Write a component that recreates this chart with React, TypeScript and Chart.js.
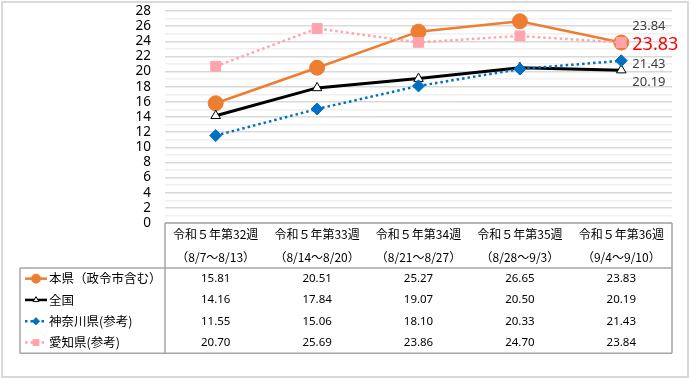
import React, { useEffect, useRef } from 'react';
import { Chart, registerables } from 'chart.js';
import { drawPoint } from 'chart.js/helpers';

Chart.register(...registerables);

const weekLabels = ['令和５年第32週', '令和５年第33週', '令和５年第34週', '令和５年第35週', '令和５年第36週'];
const dateLabels = ['（8/7～8/13）', '（8/14～8/20）', '（8/21～8/27）', '（8/28～9/3）', '（9/4～9/10）'];
const seriesNames = ['本県（政令市含む）', '全国', '神奈川県(参考)', '愛知県(参考)'];
const honken = [15.81, 20.51, 25.27, 26.65, 23.83];
const zenkoku = [14.16, 17.84, 19.07, 20.5, 20.19];
const kanagawa = [11.55, 15.06, 18.1, 20.33, 21.43];
const aichi = [20.7, 25.69, 23.86, 24.7, 23.84];
const yMin = 0;
const yMax = 28;

const ORANGE = '#ED7D31';
const BLUE = '#0070C0';
const PINK = '#FFA3AC';
const BLACK = '#000000';

const JP = '"Noto Sans CJK JP", "Noto Sans", sans-serif';
const NUM = '"Noto Sans", "Noto Sans CJK JP", sans-serif';

const tablePlugin = {
  id: 'tablePlugin',
  afterDraw(chart: any) {
    const { ctx, chartArea: ca, scales } = chart;
    const x = scales.x;
    const W = chart.width;
    const H = chart.height;
    ctx.save();
    // outer frame
    ctx.strokeStyle = '#d9d9d9';
    ctx.lineWidth = 2;
    ctx.strokeRect(2, 2, W - 4, H - 3);

    const left = 20;
    const top = ca.bottom;
    const headerBottom = top + 45;
    const rowH = 21.3;
    const bottom = headerBottom + rowH * 4;
    const right = ca.right;

    ctx.strokeStyle = '#a6a6a6';
    ctx.lineWidth = 1.5;
    ctx.beginPath();
    ctx.moveTo(ca.left, top);
    ctx.lineTo(right, top);
    ctx.moveTo(ca.left, top);
    ctx.lineTo(ca.left, bottom);
    ctx.moveTo(right, top);
    ctx.lineTo(right, bottom);
    ctx.moveTo(left, headerBottom);
    ctx.lineTo(right, headerBottom);
    ctx.moveTo(left, headerBottom);
    ctx.lineTo(left, bottom);
    ctx.moveTo(left, bottom);
    ctx.lineTo(right, bottom);
    ctx.stroke();

    // header
    ctx.fillStyle = '#000';
    ctx.textAlign = 'center';
    ctx.textBaseline = 'middle';
    ctx.font = `12px ${JP}`;
    weekLabels.forEach((w, i) => {
      const cx = x.getPixelForValue(i);
      ctx.fillText(w, cx, top + 11);
      ctx.fillText(dateLabels[i], cx, top + 34);
    });

    // rows
    const metas = chart.data.datasets;
    ctx.font = `11.5px ${NUM}`;
    metas.forEach((ds: any, r: number) => {
      const cy = headerBottom + rowH * (r + 0.5);
      ds.data.forEach((v: number, i: number) => {
        ctx.textAlign = 'center';
        ctx.fillStyle = '#000';
        ctx.fillText(v.toFixed(2), x.getPixelForValue(i), cy);
      });
    });

    // legend column
    metas.forEach((ds: any, r: number) => {
      const cy = headerBottom + rowH * (r + 0.5);
      ctx.save();
      ctx.strokeStyle = ds.borderColor;
      ctx.lineWidth = Math.min(ds.borderWidth, 2.5);
      ctx.setLineDash(ds.borderDash || []);
      ctx.beginPath();
      ctx.moveTo(25, cy);
      ctx.lineTo(47, cy);
      ctx.stroke();
      ctx.setLineDash([]);
      ctx.fillStyle = ds.pointBackgroundColor;
      ctx.strokeStyle = ds.pointBorderColor;
      ctx.lineWidth = 1;
      drawPoint(ctx, { pointStyle: ds.pointStyle, radius: ds.pointRadius * 0.6, rotation: 0, borderWidth: 1 }, 36, cy);
      ctx.restore();
      ctx.fillStyle = '#000';
      ctx.textAlign = 'left';
      ctx.font = `12.5px ${JP}`;
      ctx.fillText(seriesNames[r], 49, cy);
    });
    ctx.restore();
  },
};

const labelPlugin = {
  id: 'labelPlugin',
  afterDatasetsDraw(chart: any) {
    const { ctx } = chart;
    const last = chart.data.labels.length - 1;
    const specs = [
      { ds: 0, dx: 11, dy: 2.5, color: '#FF0000', size: 18 },
      { ds: 1, dx: 11, dy: 12, color: '#404040', size: 13 },
      { ds: 2, dx: 11, dy: 4, color: '#404040', size: 13 },
      { ds: 3, dx: 11, dy: -16.5, color: '#404040', size: 13 },
    ];
    ctx.save();
    ctx.textAlign = 'left';
    ctx.textBaseline = 'middle';
    specs.forEach((s) => {
      const el = chart.getDatasetMeta(s.ds).data[last];
      const v = chart.data.datasets[s.ds].data[last];
      ctx.fillStyle = s.color;
      ctx.font = `${s.size}px ${NUM}`;
      ctx.fillText(v.toFixed(2), el.x + s.dx, el.y + s.dy);
    });
    ctx.restore();
  },
};

export default function App() {
  const ref = useRef<HTMLCanvasElement>(null);
  useEffect(() => {
    document.body.style.margin = '0';
    const canvas = ref.current!;
    const chart = new Chart(canvas, {
      type: 'line',
      data: {
        labels: weekLabels,
        datasets: [
          {
            label: seriesNames[0],
            data: honken,
            borderColor: ORANGE,
            backgroundColor: ORANGE,
            borderWidth: 2.5,
            pointStyle: 'circle',
            pointRadius: 7.5,
            pointBackgroundColor: ORANGE,
            pointBorderColor: ORANGE,
            pointBorderWidth: 1,
            order: 3,
          },
          {
            label: seriesNames[1],
            data: zenkoku,
            borderColor: BLACK,
            backgroundColor: BLACK,
            borderWidth: 3,
            pointStyle: 'triangle',
            pointRadius: 5.5,
            pointBackgroundColor: '#ffffff',
            pointBorderColor: BLACK,
            pointBorderWidth: 1,
            order: 2,
          },
          {
            label: seriesNames[2],
            data: kanagawa,
            borderColor: BLUE,
            backgroundColor: BLUE,
            borderWidth: 2.5,
            borderDash: [2.5, 3],
            pointStyle: 'rectRot',
            pointRadius: 6,
            pointBackgroundColor: BLUE,
            pointBorderColor: BLUE,
            pointBorderWidth: 1,
            order: 1,
          },
          {
            label: seriesNames[3],
            data: aichi,
            borderColor: PINK,
            backgroundColor: PINK,
            borderWidth: 2.5,
            borderDash: [2.5, 3],
            pointStyle: 'rect',
            pointRadius: 7,
            pointBackgroundColor: PINK,
            pointBorderColor: PINK,
            pointBorderWidth: 1,
            order: 0,
          },
        ],
      },
      options: {
        responsive: false,
        animation: false,
        devicePixelRatio: 1,
        layout: { padding: { left: 0, right: 18, top: 11, bottom: 155 } },
        plugins: { legend: { display: false }, tooltip: { enabled: false } },
        scales: {
          x: { display: false, offset: true, grid: { display: false } },
          y: {
            min: yMin,
            max: yMax,
            border: { display: false },
            afterFit: (s: any) => {
              s.width = 165;
              s.paddingTop = 0;
              s.paddingBottom = 0;
            },
            grid: {
              drawTicks: false,
              lineWidth: 1.5,
              color: (c: any) => (c.tick && c.tick.value % 2 === 0 ? '#d9d9d9' : '#f0f0f0'),
            },
            ticks: {
              stepSize: 1,
              autoSkip: false,
              padding: 14,
              color: '#000',
              font: { family: NUM, size: 13.5 },
              callback: (v: any) => (Number(v) % 2 === 0 ? String(v) : ''),
            },
          },
        },
      },
      plugins: [labelPlugin, tablePlugin],
    } as any);
    return () => chart.destroy();
  }, []);
  return <canvas ref={ref} width={690} height={378} style={{ display: 'block' }} />;
}
